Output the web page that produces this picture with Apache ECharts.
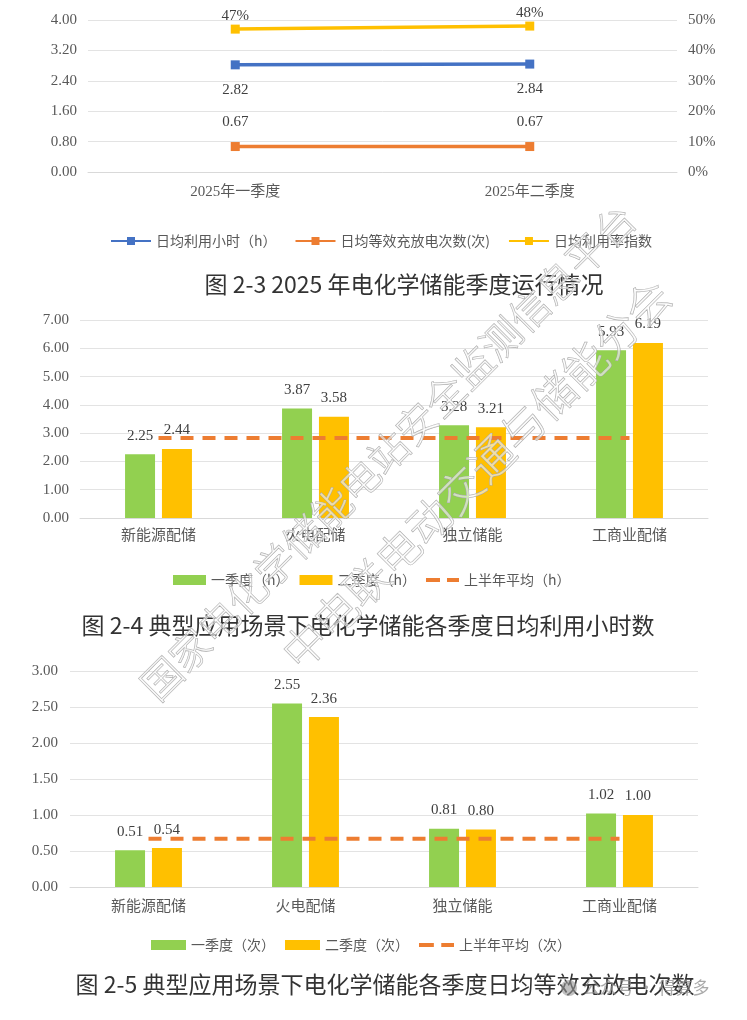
<!DOCTYPE html>
<html>
<head>
<meta charset="utf-8">
<script src="https://cdn.jsdelivr.net/npm/echarts@6/dist/echarts.min.js"></script>
<style>
html,body{margin:0;padding:0;background:#fff;}
#c{width:747px;height:1020px;}
</style>
</head>
<body>
<div id="c"></div>
<script>
// ---- Data ----
const quarterCats = ['2025年一季度', '2025年二季度'];
const dailyHours = [2.82, 2.84];
const dailyCycles = [0.67, 0.67];
const utilIndex = [47, 48];

const scenarios = ['新能源配储', '火电配储', '独立储能', '工商业配储'];
const hoursQ1 = [2.25, 3.87, 3.28, 5.93];
const hoursQ2 = [2.44, 3.58, 3.21, 6.19];
const hoursAvg = [2.83, 2.83, 2.83, 2.83];
const cyclesQ1 = [0.51, 2.55, 0.81, 1.02];
const cyclesQ2 = [0.54, 2.36, 0.80, 1.00];
const cyclesAvg = [0.67, 0.67, 0.67, 0.67];

const titles = ['图 2-3 2025 年电化学储能季度运行情况',
                '图 2-4 典型应用场景下电化学储能各季度日均利用小时数',
                '图 2-5 典型应用场景下电化学储能各季度日均等效充放电次数'];

// ---- Style ----
const NUM_FONT = 'Liberation Serif, Noto Sans CJK SC, serif';
const CJK_FONT = 'Noto Sans CJK SC, sans-serif';
const TXT = '#595959';
const GRID = '#E3E3E3';
const BLUE = '#4472C4', ORANGE = '#ED7D31', YELLOW = '#FFC000', GREEN = '#92D050';
const DASH_ICON = 'path://M0,0H14V4H0Z M21,0H33V4H21Z';

const chart = echarts.init(document.getElementById('c'), null, {renderer: 'canvas'});

function valAxis(grid, min, max, interval, margin, fmt, pos) {
  return {
    type: 'value', gridIndex: grid, min: min, max: max, interval: interval,
    position: pos || 'left',
    axisLine: {show: false}, axisTick: {show: false},
    splitLine: {show: pos !== 'right', lineStyle: {color: GRID, width: 1}},
    axisLabel: {margin: margin, color: TXT, fontFamily: NUM_FONT, fontSize: 15, formatter: fmt}
  };
}
function catAxis(grid, data, margin) {
  return {
    type: 'category', gridIndex: grid, data: data,
    axisLine: {show: true, lineStyle: {color: '#D9D9D9', width: 1}},
    axisTick: {show: false},
    axisLabel: {margin: margin, color: TXT, fontFamily: NUM_FONT, fontSize: 15, interval: 0}
  };
}
const fix2 = v => v.toFixed(2);

function barSeries(name, data, color, xi, yi) {
  return {
    name: name, type: 'bar', xAxisIndex: xi, yAxisIndex: yi, data: data,
    barWidth: 30, barGap: '23%',
    itemStyle: {color: color},
    label: {show: true, position: 'top', distance: 11, color: '#404040',
            fontFamily: NUM_FONT, fontSize: 15, formatter: p => p.value.toFixed(2)}
  };
}
function avgSeries(name, data, xi, yi) {
  return {
    name: name, type: 'line', xAxisIndex: xi, yAxisIndex: yi, data: data,
    symbol: 'none', z: 5,
    lineStyle: {color: ORANGE, width: 4, type: [13, 9]},
    itemStyle: {color: ORANGE}
  };
}
function lineSeries(name, data, color, yi, labelPos, dist, fmt) {
  return {
    name: name, type: 'line', xAxisIndex: 0, yAxisIndex: yi, data: data,
    symbol: 'rect', symbolSize: 9,
    lineStyle: {color: color, width: 3.5}, itemStyle: {color: color},
    label: {show: true, position: labelPos, distance: dist, color: '#404040',
            fontFamily: NUM_FONT, fontSize: 15, formatter: fmt}
  };
}
const legendText = {color: TXT, fontFamily: CJK_FONT, fontSize: 14};

const option = {
  animation: false,
  backgroundColor: '#fff',
  grid: [
    {left: 88, top: 20, width: 589, height: 152},
    {left: 80, top: 320, width: 628, height: 198},
    {left: 70, top: 671, width: 628, height: 216}
  ],
  xAxis: [
    catAxis(0, quarterCats, 13),
    catAxis(1, scenarios, 11),
    catAxis(2, scenarios, 13)
  ],
  yAxis: [
    valAxis(0, 0, 4, 0.8, 11, fix2),
    valAxis(0, 0, 50, 10, 11, '{value}%', 'right'),
    valAxis(1, 0, 7, 1, 11, fix2),
    valAxis(2, 0, 3, 0.5, 12, fix2)
  ],
  legend: [
    {left: 105, top: 229, itemWidth: 40, itemHeight: 10, itemGap: 18, textStyle: legendText,
     data: ['日均利用小时（h）', '日均等效充放电次数(次)', '日均利用率指数']},
    {left: 168, top: 568, itemWidth: 33, itemHeight: 10, itemGap: 10, textStyle: legendText,
     data: [{name: '一季度（h）', icon: 'rect'}, {name: '二季度（h）', icon: 'rect'},
            {name: '上半年平均（h）', icon: DASH_ICON}]},
    {left: 146, top: 933, itemWidth: 35, itemHeight: 10, itemGap: 10, textStyle: legendText,
     data: [{name: '一季度（次）', icon: 'rect'}, {name: '二季度（次）', icon: 'rect'},
            {name: '上半年平均（次）', icon: DASH_ICON}]}
  ],
  series: [
    lineSeries('日均利用小时（h）', dailyHours, BLUE, 0, 'bottom', 13, p => p.value.toFixed(2)),
    lineSeries('日均等效充放电次数(次)', dailyCycles, ORANGE, 0, 'top', 12, p => p.value.toFixed(2)),
    lineSeries('日均利用率指数', utilIndex, YELLOW, 1, 'top', 1, p => p.value + '%'),
    barSeries('一季度（h）', hoursQ1, GREEN, 1, 2),
    barSeries('二季度（h）', hoursQ2, YELLOW, 1, 2),
    avgSeries('上半年平均（h）', hoursAvg, 1, 2),
    barSeries('一季度（次）', cyclesQ1, GREEN, 2, 3),
    barSeries('二季度（次）', cyclesQ2, YELLOW, 2, 3),
    avgSeries('上半年平均（次）', cyclesAvg, 2, 3)
  ],
  graphic: [
    {type: 'text', x: 404, y: 284, z: 10, style: {text: titles[0], fontSize: 23, fontFamily: CJK_FONT, fill: '#333', textAlign: 'center', textVerticalAlign: 'middle'}},
    {type: 'text', x: 368, y: 625, z: 10, style: {text: titles[1], fontSize: 23, fontFamily: CJK_FONT, fill: '#333', textAlign: 'center', textVerticalAlign: 'middle'}},
    {type: 'text', x: 385, y: 984, z: 10, style: {text: titles[2], fontSize: 23, fontFamily: CJK_FONT, fill: '#333', textAlign: 'center', textVerticalAlign: 'middle'}},
    {type: 'text', x: 388, y: 452, rotation: Math.PI / 4, z: 100,
     style: {text: '国家电化学储能电站安全监测信息平台', fontSize: 40, fontFamily: CJK_FONT, fontWeight: 300,
             fill: 'rgba(255,255,255,0.55)', stroke: '#a8a8a8', lineWidth: 0.9, textAlign: 'center', textVerticalAlign: 'middle'}},
    {type: 'text', x: 476, y: 474, rotation: Math.PI / 4, z: 100,
     style: {text: '中电联电动交通与储能分会', fontSize: 44, fontFamily: CJK_FONT, fontWeight: 300,
             fill: 'rgba(255,255,255,0.55)', stroke: '#a8a8a8', lineWidth: 0.9, textAlign: 'center', textVerticalAlign: 'middle'}},
    {type: 'circle', z: 100, shape: {cx: 569, cy: 988, r: 8}, style: {fill: 'rgba(150,150,150,0.6)'}},
    {type: 'text', x: 583, y: 988, z: 100,
     style: {text: '公众号 · 得算多', fontSize: 17, fontFamily: CJK_FONT, fill: 'rgba(140,140,140,0.75)', textVerticalAlign: 'middle'}}
  ]
};
chart.setOption(option);
</script>
</body>
</html>
